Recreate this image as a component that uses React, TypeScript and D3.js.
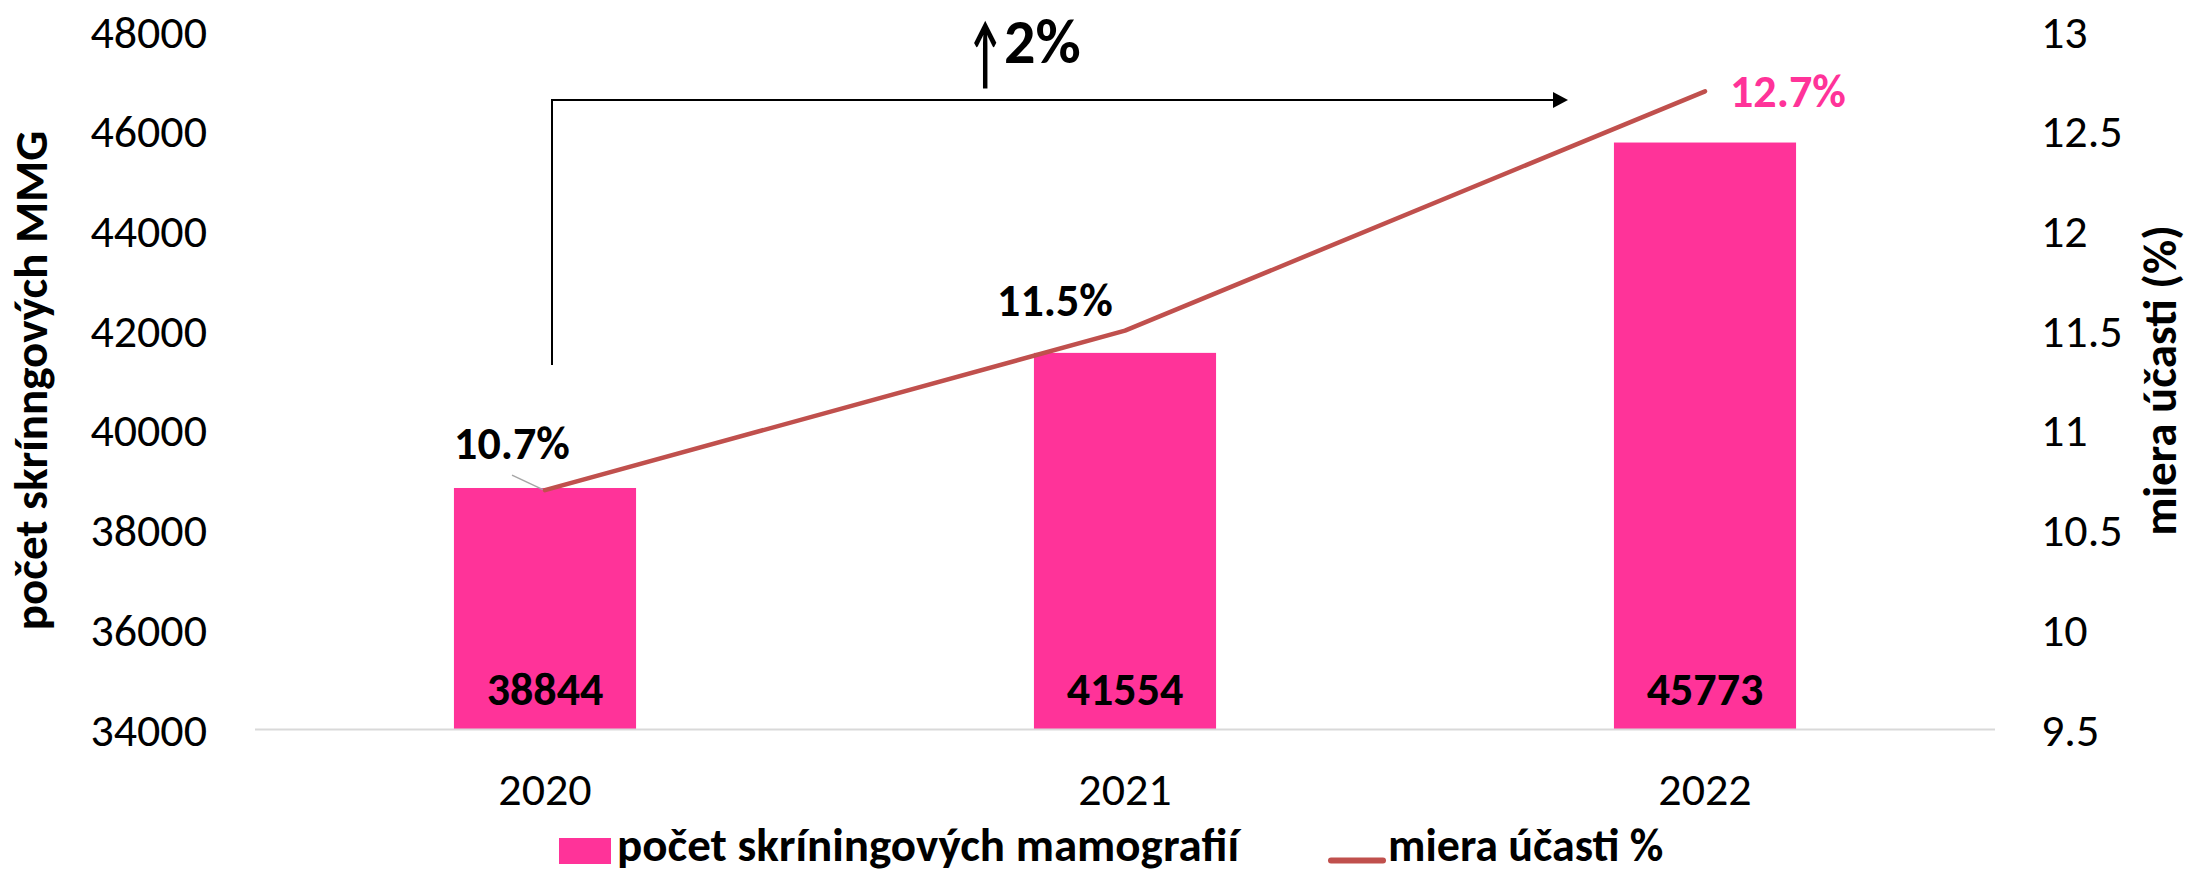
import React from 'react';
import * as d3 from 'd3';

// data
const years = ['2020', '2021', '2022'];
const screenings = [38844, 41554, 45773];
const participation = [10.7, 11.5, 12.7];
const leftTicks = [34000, 36000, 38000, 40000, 42000, 44000, 46000, 48000];
const rightTicks = [9.5, 10, 10.5, 11, 11.5, 12, 12.5, 13];
const rightTickLabels = ['9.5', '10', '10.5', '11', '11.5', '12', '12.5', '13'];
const rateLabels = ['10.7%', '11.5%', '12.7%'];
const changeLabel = '2%';

const W = 2190;
const H = 874;
const FONT = 'Carlito, Calibri, Lato, sans-serif';
const PINK = '#FF3399';
const RED = '#C0504D';
const FS = 46;

// where each line label sits relative to its point
const rateLabelPos = [
  { dx: -33, dy: -31, anchor: 'middle', color: '#000' },
  { dx: -70, dy: -15, anchor: 'middle', color: '#000' },
  { dx: 25, dy: 15.5, anchor: 'start', color: PINK },
];

export default function App() {
  const x = d3.scaleBand<string>()
    .domain(years)
    .range([255, 1995])
    .paddingInner(0.686)
    .paddingOuter(0.343);

  const yLeft = d3.scaleLinear().domain([34000, 48000]).range([729.5, 31.5]);
  const yRight = d3.scaleLinear().domain([9.5, 13]).range([729.5, 31.5]);

  const cx = (y: string) => (x(y) as number) + x.bandwidth() / 2;

  const line = d3.line<number>()
    .x((d, i) => cx(years[i]))
    .y((d) => yRight(d));

  const first = { x: cx(years[0]), y: yRight(participation[0]) };
  const bracketX = cx(years[0]) + 7;
  const bracketEnd = cx(years[2]) - 137;
  const midY = (yLeft.range()[0] + yLeft.range()[1]) / 2;

  return (
    <svg width={W} height={H} style={{ position: 'absolute', left: 0, top: 0, background: '#fff' }}
      fontFamily={FONT}>
      {/* left axis ticks */}
      {leftTicks.map((t) => (
        <text key={t} x={207} y={yLeft(t)} dy="0.35em" textAnchor="end" fontSize={FS}>{t}</text>
      ))}
      {/* right axis ticks */}
      {rightTicks.map((t, i) => (
        <text key={t} x={2041} y={yRight(t)} dy="0.35em" textAnchor="start" fontSize={FS}>{rightTickLabels[i]}</text>
      ))}

      <text transform={`translate(47, ${midY}) rotate(-90)`}
        textAnchor="middle" fontSize={47} fontWeight="bold">počet skrínngových MMG</text>
      <text transform={`translate(2176, ${midY}) rotate(-90)`}
        textAnchor="middle" fontSize={47} fontWeight="bold">miera účasti (%)</text>

      {/* bars */}
      {screenings.map((v, i) => (
        <rect key={years[i]} x={x(years[i])} y={yLeft(v)} width={x.bandwidth()}
          height={yLeft(34000) - yLeft(v)} fill={PINK} />
      ))}

      {/* baseline */}
      <line x1={255} x2={1995} y1={729.5} y2={729.5} stroke="#d9d9d9" strokeWidth={2} />

      {/* bar values */}
      {screenings.map((v, i) => (
        <text key={years[i]} x={cx(years[i])} y={705} textAnchor="middle" fontSize={FS} fontWeight="bold">{v}</text>
      ))}

      {/* x labels */}
      {years.map((y) => (
        <text key={y} x={cx(y)} y={805} textAnchor="middle" fontSize={FS}>{y}</text>
      ))}

      {/* leader line for first label */}
      <line x1={first.x - 33} y1={first.y - 15} x2={first.x - 1} y2={first.y} stroke="#a6a6a6" strokeWidth={1.5} />

      {/* participation line */}
      <path d={line(participation) || ''} fill="none" stroke={RED} strokeWidth={4.5}
        strokeLinecap="round" strokeLinejoin="round" />

      {participation.map((v, i) => (
        <text key={years[i]} x={cx(years[i]) + rateLabelPos[i].dx} y={yRight(v) + rateLabelPos[i].dy}
          textAnchor={rateLabelPos[i].anchor} fontSize={FS} fontWeight="bold"
          fill={rateLabelPos[i].color}>{rateLabels[i]}</text>
      ))}

      {/* bracket arrow */}
      <path d={`M${bracketX},365 V100 H${bracketEnd - 15}`} fill="none" stroke="#000" strokeWidth={2} />
      <path d={`M${bracketEnd - 15},92 L${bracketEnd},100 L${bracketEnd - 15},108 Z`} fill="#000" />
      <text transform="translate(985, 80) scale(0.5, 1)" fontSize={80} fontWeight="bold" textAnchor="middle">↑</text>
      <text x={1004} y={63} fontSize={62} fontWeight="bold">{changeLabel}</text>

      {/* legend */}
      <rect x={559} y={838} width={52} height={26} fill={PINK} />
      <text x={617} y={861} fontSize={47} fontWeight="bold">počet skríningových mamografií</text>
      <line x1={1331} x2={1383} y1={860.5} y2={860.5} stroke={RED} strokeWidth={6} strokeLinecap="round" />
      <text x={1388} y={861} fontSize={FS} fontWeight="bold">miera účasti %</text>
    </svg>
  );
}
